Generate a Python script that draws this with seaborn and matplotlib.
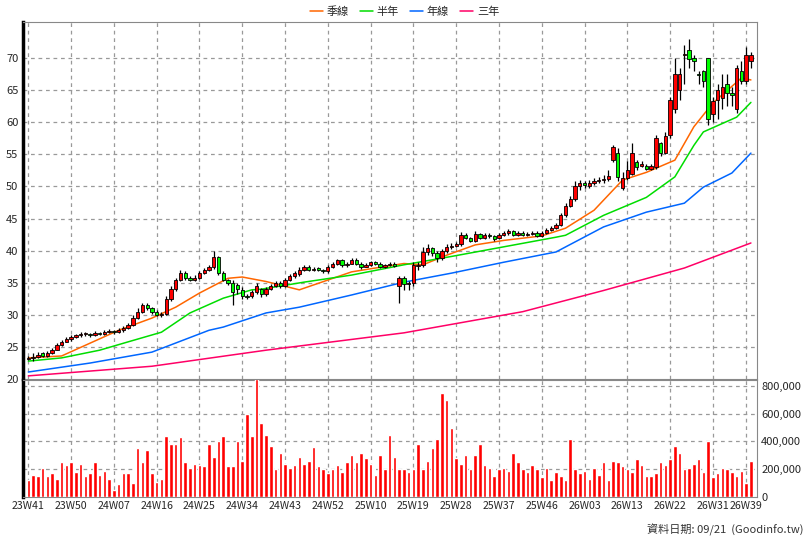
import matplotlib
matplotlib.use("Agg")
import matplotlib.pyplot as plt
import seaborn as sns
import numpy as np
import pandas as pd

opens = [23.2,23.3,23.5,24.0,23.6,24.0,24.6,25.3,
 25.8,26.2,26.5,26.8,27.0,27.0,26.9,27.2,27.0,27.3,27.5,27.3,
 27.6,28.0,28.5,29.5,30.5,31.6,31.0,30.5,30.0,30.2,32.5,
 34.0,35.5,36.5,35.8,35.5,35.8,36.5,37.0,37.5,39.0,36.5,35.5,
 35.0,34.6,33.9,33.0,32.9,33.5,34.0,33.2,34.1,34.5,35.0,34.5,35.5,
 36.0,36.4,37.0,37.5,37.0,37.3,37.0,36.8,37.5,38.0,38.5,
 37.8,38.0,38.6,38.0,37.5,37.8,
 38.2,38.0,37.5,37.8,38.0,
 34.5,35.8,34.8,35.0,37.6,37.8,39.8,40.4,39.6,38.8,39.9,40.6,40.8,
 41.0,42.5,42.0,41.5,42.6,42.0,42.4,42.3,42.0,42.5,
 42.7,43.0,42.5,42.8,42.5,42.6,42.8,42.3,42.8,43.2,
 43.5,44.0,45.5,47.0,48.0,50.0,50.5,50.0,50.5,50.8,
 51.0,51.2,54.1,55.2,49.8,51.3,52.0,53.8,53.2,53.2,52.8,53.0,56.8,55.2,58.0,62.0,65.0,70.5,71.3,70.0,67.5,68.0,70.0,61.3,63.5,63.8,66.0,64.5,62.0,68.0,66.5,69.5]
highs = [23.6,24.0,24.2,24.2,24.3,24.8,25.6,26.1,
 26.5,26.8,27.0,27.3,27.3,27.2,27.5,27.4,27.6,27.8,27.6,28.0,
 28.3,28.8,30.0,31.0,31.8,31.8,31.2,30.7,30.5,33.0,34.5,
 35.8,37.0,36.8,36.0,36.2,36.8,37.3,37.8,40.0,39.2,36.8,35.6,
 35.5,35.0,34.3,33.3,33.8,35.0,34.2,34.4,34.8,35.3,35.2,35.8,36.4,
 36.8,37.5,37.8,37.7,37.5,37.4,37.2,37.8,38.3,38.7,38.7,
 38.3,38.8,38.9,38.2,38.1,38.4,
 38.4,38.2,38.0,38.2,38.2,
 36.0,36.0,35.3,38.2,38.3,40.5,41.0,40.6,40.0,40.3,41.0,41.2,41.3,
 42.9,42.8,42.2,43.0,42.8,42.7,42.7,42.5,42.8,43.1,
 43.4,43.2,43.0,43.0,42.9,43.1,43.0,43.1,43.5,43.8,
 44.3,45.8,47.5,48.5,50.8,51.0,50.8,51.0,51.3,51.5,
 51.8,52.5,56.5,56.0,52.3,54.0,56.8,54.2,54.0,53.5,53.5,58.0,57.0,58.5,64.0,70.0,68.5,72.0,73.0,70.5,68.0,68.2,70.0,64.0,66.0,67.5,67.5,65.5,69.0,69.5,71.8,71.0]
lows = [23.0,22.8,23.3,23.4,23.5,23.9,24.5,25.2,
 25.7,26.0,26.4,26.6,26.7,26.6,26.7,26.8,26.9,27.1,27.0,27.1,
 27.4,27.8,28.3,29.3,30.3,30.7,30.2,29.8,29.7,30.0,32.2,
 33.7,35.2,35.5,35.2,35.3,35.6,36.3,36.8,37.2,36.2,35.2,34.6,
 31.5,33.2,32.5,32.4,32.7,33.3,32.8,33.0,33.9,34.3,34.2,34.3,35.3,
 35.8,36.1,36.8,36.8,36.8,36.8,36.5,36.6,37.3,37.8,37.5,
 37.5,37.9,37.8,37.2,37.4,37.6,
 37.8,37.3,37.3,37.6,37.4,
 31.8,33.8,33.8,34.5,37.0,37.5,39.4,39.2,38.2,38.5,39.7,40.3,40.6,
 40.8,41.8,41.3,41.3,41.8,41.8,42.0,41.5,41.8,42.3,
 42.5,42.3,42.3,42.3,42.3,42.4,42.1,42.1,42.6,43.0,
 43.3,43.8,45.3,46.8,47.8,49.5,49.8,49.8,50.2,50.5,
 50.5,50.8,53.8,50.8,49.5,51.0,51.8,52.5,53.0,52.5,52.5,52.8,54.8,55.0,57.5,61.5,63.5,66.0,68.5,68.0,66.0,65.5,59.5,60.0,60.5,62.0,62.5,62.5,61.5,66.0,66.0,68.5]
closes = [23.3,23.5,23.8,23.6,24.0,24.5,25.3,25.8,
 26.2,26.5,26.8,27.0,27.0,26.9,27.2,27.0,27.3,27.5,27.3,27.6,
 28.0,28.5,29.5,30.5,31.5,31.0,30.5,30.0,30.2,32.5,34.0,
 35.5,36.5,35.8,35.5,35.8,36.5,37.0,37.5,39.0,36.5,35.5,35.0,
 33.5,34.0,33.0,32.8,33.5,34.5,33.2,34.0,34.5,35.0,34.5,35.5,36.0,
 36.5,37.0,37.5,37.0,37.2,37.0,36.8,37.5,38.0,38.5,37.8,
 38.0,38.5,38.0,37.5,37.8,38.2,
 38.0,37.5,37.8,38.0,37.6,
 35.8,34.8,35.0,37.8,37.8,39.8,40.4,39.6,38.8,39.9,40.6,40.8,41.0,
 42.5,42.0,41.5,42.6,42.0,42.4,42.3,41.8,42.5,42.7,
 43.0,42.5,42.8,42.5,42.6,42.8,42.3,42.8,43.2,43.5,
 44.0,45.5,47.0,48.0,50.0,50.5,50.3,50.5,50.8,51.0,
 51.2,51.6,56.1,51.5,51.3,52.5,55.2,53.0,53.5,52.8,53.2,57.5,55.2,57.8,63.5,67.5,67.5,70.5,69.8,69.5,67.3,66.5,60.5,63.3,65.0,65.5,64.5,64.2,68.5,66.5,70.5,70.5]
volumes_k = [120,160,150,210,150,170,130,250,230,250,180,240,150,170,250,160,190,130,50,90,
 170,170,100,350,250,340,170,110,130,440,380,380,430,250,210,240,230,220,380,290,
 400,440,220,220,400,260,600,440,850,530,450,370,200,320,240,210,230,290,240,260,
 360,220,200,170,200,230,180,250,300,250,320,280,240,160,300,200,450,290,200,200,
 180,200,380,200,260,350,420,750,700,500,280,240,300,200,300,380,230,210,150,200,
 210,190,320,250,200,180,230,200,140,210,120,180,150,120,420,200,170,190,130,210,
 160,250,120,260,250,220,200,180,270,230,150,150,170,250,230,270,370,320,200,210,
 240,270,180,400,140,170,210,200,180,150,190,100,260]

ma_q_idx = [0,7,13,19,26,31,36,42,45,50,57,68,73,79,83,88,94,100,108,113,119,125,130,136,140,144,150,152]
ma_q_val = [23.3,23.6,25.6,27.6,29.5,31.2,33.4,35.7,35.9,35.2,33.9,36.7,37.3,38.0,37.8,39.3,40.9,41.6,42.3,43.5,46.3,51.0,52.2,54.1,59.3,63.0,66.9,66.6]
ma_h_idx = [0,7,15,21,28,34,41,47,49,58,68,79,89,100,111,113,121,130,136,140,142,149,152]
ma_h_val = [22.8,23.3,24.5,25.8,27.3,30.3,32.6,33.9,34.0,35.1,36.2,37.8,39.1,40.6,42.1,42.4,45.5,48.3,51.5,56.4,58.5,60.8,63.1]
ma_y_idx = [0,13,26,38,41,50,57,68,79,89,100,111,121,130,138,142,148,152]
ma_y_val = [21.1,22.5,24.2,27.6,28.1,30.3,31.2,33.1,35.1,36.5,38.2,39.8,43.7,46.0,47.4,49.9,52.1,55.2]
ma_3_idx = [0,26,50,79,104,121,138,152]
ma_3_val = [20.5,22.0,24.5,27.2,30.5,33.8,37.3,41.2]

tick_labels = ["23W41","23W50","24W07","24W16","24W25","24W34","24W43","24W52","25W10",
               "25W19","25W28","25W37","25W46","26W03","26W13","26W22","26W31","26W39"]

sns.set_style("white")
plt.rcParams['font.family'] = ['Noto Sans CJK TC', 'DejaVu Sans']

n = min(len(opens), len(highs), len(lows), len(closes), len(volumes_k))
x = np.arange(n)
o = np.array(opens[:n]); h = np.array(highs[:n]); l = np.array(lows[:n]); c = np.array(closes[:n])
v = np.array(volumes_k[:n]) * 1000

fig = plt.figure(figsize=(8.08, 5.4), dpi=100)
ax = fig.add_axes([0.028, 0.298, 0.909, 0.661])
axv = fig.add_axes([0.028, 0.080, 0.909, 0.216], sharex=ax)

tick_pos = [9 * k for k in range(len(tick_labels))]
tick_pos[-1] = n - 2
grid_kw = dict(color="#999999", linestyle=(0, (3, 3)), linewidth=0.9)

for a in (ax, axv):
    for t in tick_pos:
        a.axvline(t, zorder=0, **grid_kw)
for yv in range(25, 75, 5):
    ax.axhline(yv, zorder=0, **grid_kw)
for yv in range(200000, 800001, 200000):
    axv.axhline(yv, zorder=0, **grid_kw)

lines = [(ma_q_idx, ma_q_val, "#FF6600", "季線"), (ma_h_idx, ma_h_val, "#00DD00", "半年"),
         (ma_y_idx, ma_y_val, "#0066FF", "年線"), (ma_3_idx, ma_3_val, "#FF0066", "三年")]
for idx, val, col, lab in lines:
    df = pd.DataFrame({"x": idx, "y": val})
    sns.lineplot(data=df, x="x", y="y", ax=ax, color=col, linewidth=1.1, label=lab, zorder=2)

up = c >= o
ax.vlines(x, l, h, color="black", linewidth=0.9, zorder=3)
body_b = np.minimum(o, c)
body_h = np.maximum(np.abs(c - o), 0.12)
ax.bar(x, body_h, bottom=body_b, width=0.7, color=np.where(up, "#FF0000", "#00FF00"),
       edgecolor="black", linewidth=0.6, zorder=4)

axv.bar(x, v, width=0.75, color="#FF0000", zorder=3)

ax.set_xlim(-1.2, n + 0.3)
ax.set_ylim(20, 75.6)
ax.set_yticks(range(20, 75, 5))
ax.tick_params(axis="y", labelsize=8, length=0, pad=3)
ax.tick_params(axis="x", bottom=False, labelbottom=False)
ax.set_xlabel(""); ax.set_ylabel("")

axv.set_ylim(0, 843000)
axv.set_yticks(range(0, 800001, 200000))
axv.yaxis.tick_right()
axv.set_yticklabels([f"{t:,}" for t in range(0, 800001, 200000)])
axv.tick_params(axis="y", labelsize=8, length=0, pad=3)
axv.set_xticks(tick_pos)
axv.set_xticklabels(tick_labels)
axv.tick_params(axis="x", labelsize=7.6, length=0, pad=3)

for a in (ax, axv):
    for s in a.spines.values():
        s.set_color("#888888"); s.set_linewidth(0.8)
    a.spines["left"].set_color("black"); a.spines["left"].set_linewidth(2.5)

ax.legend(loc="lower center", bbox_to_anchor=(0.52, 1.0), ncol=4, frameon=False,
          fontsize=8, handlelength=1.2, columnspacing=1.0, handletextpad=0.3, borderaxespad=0.1)

fig.text(0.995, 0.008, "資料日期: 09/21  (Goodinfo.tw)", ha="right", va="bottom", fontsize=8, color="#333333")

fig.savefig("out.png", dpi=100, facecolor="white")
